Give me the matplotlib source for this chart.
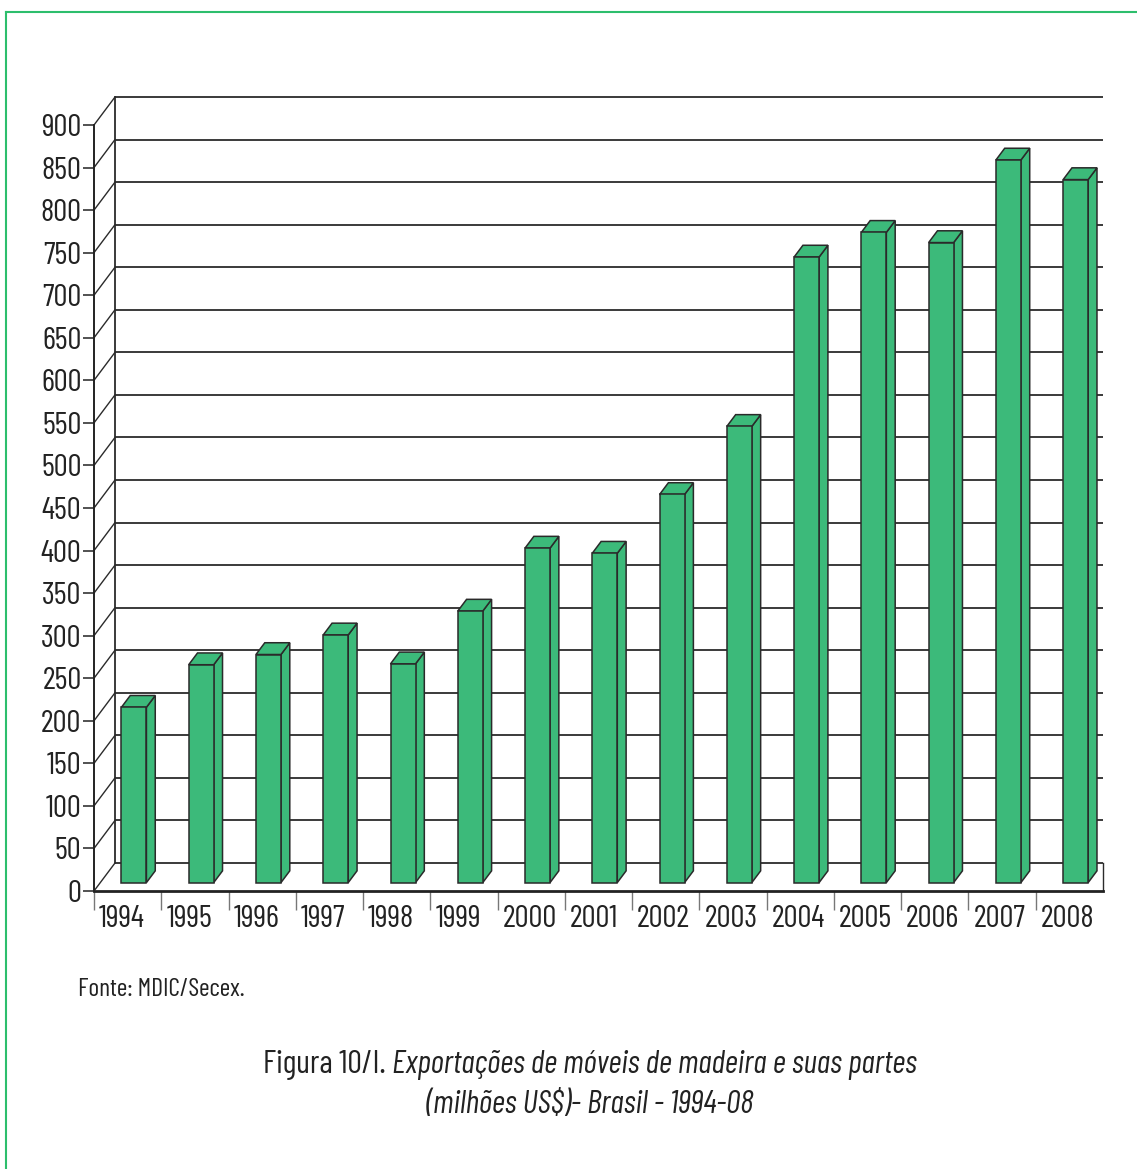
import matplotlib
matplotlib.use("Agg")
import matplotlib.pyplot as plt
from matplotlib.patches import Polygon
from matplotlib.lines import Line2D
from matplotlib.transforms import offset_copy

# Export values of wooden furniture and parts (US$ million)
years = ["1994", "1995", "1996", "1997", "1998", "1999", "2000", "2001",
         "2002", "2003", "2004", "2005", "2006", "2007", "2008"]
values = [206, 256, 268, 291, 257, 319, 393, 387, 456, 536, 735, 764, 752, 849, 826]
y_ticks = list(range(0, 901, 50))

source_text = "Fonte: MDIC/Secex."
caption_plain = "Figura 10/I. "
caption_italic_1 = "Exportações de móveis de madeira e suas partes"
caption_italic_2 = "(milhões US$)- Brasil - 1994-08"

W, H, DPI = 1137, 1169, 100
FONT = ["Barlow Condensed", "DejaVu Sans"]
plt.rcParams["font.family"] = FONT

fig = plt.figure(figsize=(W / DPI, H / DPI), dpi=DPI)
fig.patch.set_facecolor("white")
txt_col = "#222222"

# green frame round the figure
frame_col = "#2DBE6C"
fig.add_artist(Line2D([6 / W, 1.0], [1 - 12 / H, 1 - 12 / H], transform=fig.transFigure,
                      color=frame_col, lw=1.5))
fig.add_artist(Line2D([6 / W, 6 / W], [0, 1 - 12 / H], transform=fig.transFigure,
                      color=frame_col, lw=1.5))

# plotting area: front floor edge runs from x=0 to x=15 categories
ax_l, ax_r, ax_b, ax_t = 94, 1103, 891, 97
ax = fig.add_axes([ax_l / W, 1 - ax_b / H, (ax_r - ax_l) / W, (ax_b - ax_t) / H])
n = len(years)
ymax = 900
px_per_val = (ax_b - 125) / ymax
DX = 21 / ((ax_r - ax_l) / n)      # depth shift in category units
DY = 28 / px_per_val               # depth shift in value units
ax.set_xlim(0, n)
ax.set_ylim(0, ymax + DY)
ax.set_facecolor("none")

grid_col = "#2b2b2b"
gl = 1.3
# back wall gridlines and left wall diagonals
for v in y_ticks:
    ax.plot([DX, n], [v + DY, v + DY], color=grid_col, lw=gl, zorder=1, clip_on=False,
            solid_capstyle="butt")
    ax.plot([0, DX], [v, v + DY], color=grid_col, lw=1.0, zorder=1, clip_on=False)
ax.plot([DX, DX], [DY, ymax + DY], color=grid_col, lw=gl, zorder=1, clip_on=False)
ax.plot([n, n], [0, DY], color=grid_col, lw=1.0, zorder=1, clip_on=False)

# spines / ticks
for s in ["top", "right"]:
    ax.spines[s].set_visible(False)
ax.spines["left"].set_bounds(0, ymax)
ax.spines["left"].set_linewidth(1.4)
ax.spines["left"].set_color("#222222")
ax.spines["bottom"].set_linewidth(2.0)
ax.spines["bottom"].set_color("#222222")
ax.set_yticks(y_ticks)
ax.set_yticklabels([str(v) for v in y_ticks])
ax.tick_params(axis="y", direction="out", length=8, width=1.2, color="#333333",
               labelsize=22.5, pad=1, labelcolor=txt_col)
ax.set_xticks(range(n))
ax.set_xticklabels([])
ax.tick_params(axis="x", direction="out", length=14, width=1.0, color="#777777")
for lab in ax.get_yticklabels():
    lab.set_fontfamily(FONT)

# year labels start just right of each tick
lab_tr = offset_copy(ax.transData, fig=fig, x=5, y=-14, units="dots")
for i, yr in enumerate(years):
    ax.text(i, 0, yr, transform=lab_tr, ha="left", va="top", fontsize=22.5,
            color=txt_col, family=FONT)

# 3D bars
bar_col = "#3CBA7A"
edge_col = "#2a2a2a"
bw = 25 / ((ax_r - ax_l) / n)
d0, dw = 0.30, 0.42
for i, v in enumerate(values):
    x0 = i + 0.5 - bw / 2 + d0 * DX
    x1 = x0 + bw
    y0 = d0 * DY
    y1 = y0 + v
    ox, oy = dw * DX, dw * DY
    front = [(x0, y0), (x1, y0), (x1, y1), (x0, y1)]
    side = [(x1, y0), (x1 + ox, y0 + oy), (x1 + ox, y1 + oy), (x1, y1)]
    top = [(x0, y1), (x1, y1), (x1 + ox, y1 + oy), (x0 + ox, y1 + oy)]
    for poly in (side, top, front):
        ax.add_patch(Polygon(poly, closed=True, facecolor=bar_col, edgecolor=edge_col,
                             lw=1.1, zorder=3, joinstyle="miter"))

# source note
fig.text(78 / W, 1 - 990 / H, source_text, fontsize=18.5, ha="left", va="center",
         color=txt_col, family=FONT)

# caption: plain prefix followed by italic title, centred as a whole
fig.canvas.draw()
renderer = fig.canvas.get_renderer()
cy1 = 1 - 1065 / H
cy2 = 1 - 1105 / H
cap_size = 23.3
t1 = fig.text(0, cy1, caption_plain, fontsize=cap_size, ha="left", va="center",
              color=txt_col, family=FONT)
t2 = fig.text(0, cy1, caption_italic_1, fontsize=cap_size, ha="left", va="center",
              color=txt_col, family=FONT, style="italic")
w1 = t1.get_window_extent(renderer).width
w2 = t2.get_window_extent(renderer).width
cx = 590
start = cx - (w1 + w2) / 2
t1.set_x(start / W)
t2.set_x((start + w1) / W)
fig.text(cx / W, cy2, caption_italic_2, fontsize=cap_size, ha="center", va="center",
         color=txt_col, family=FONT, style="italic")

fig.savefig("out.png", dpi=DPI, facecolor="white")
